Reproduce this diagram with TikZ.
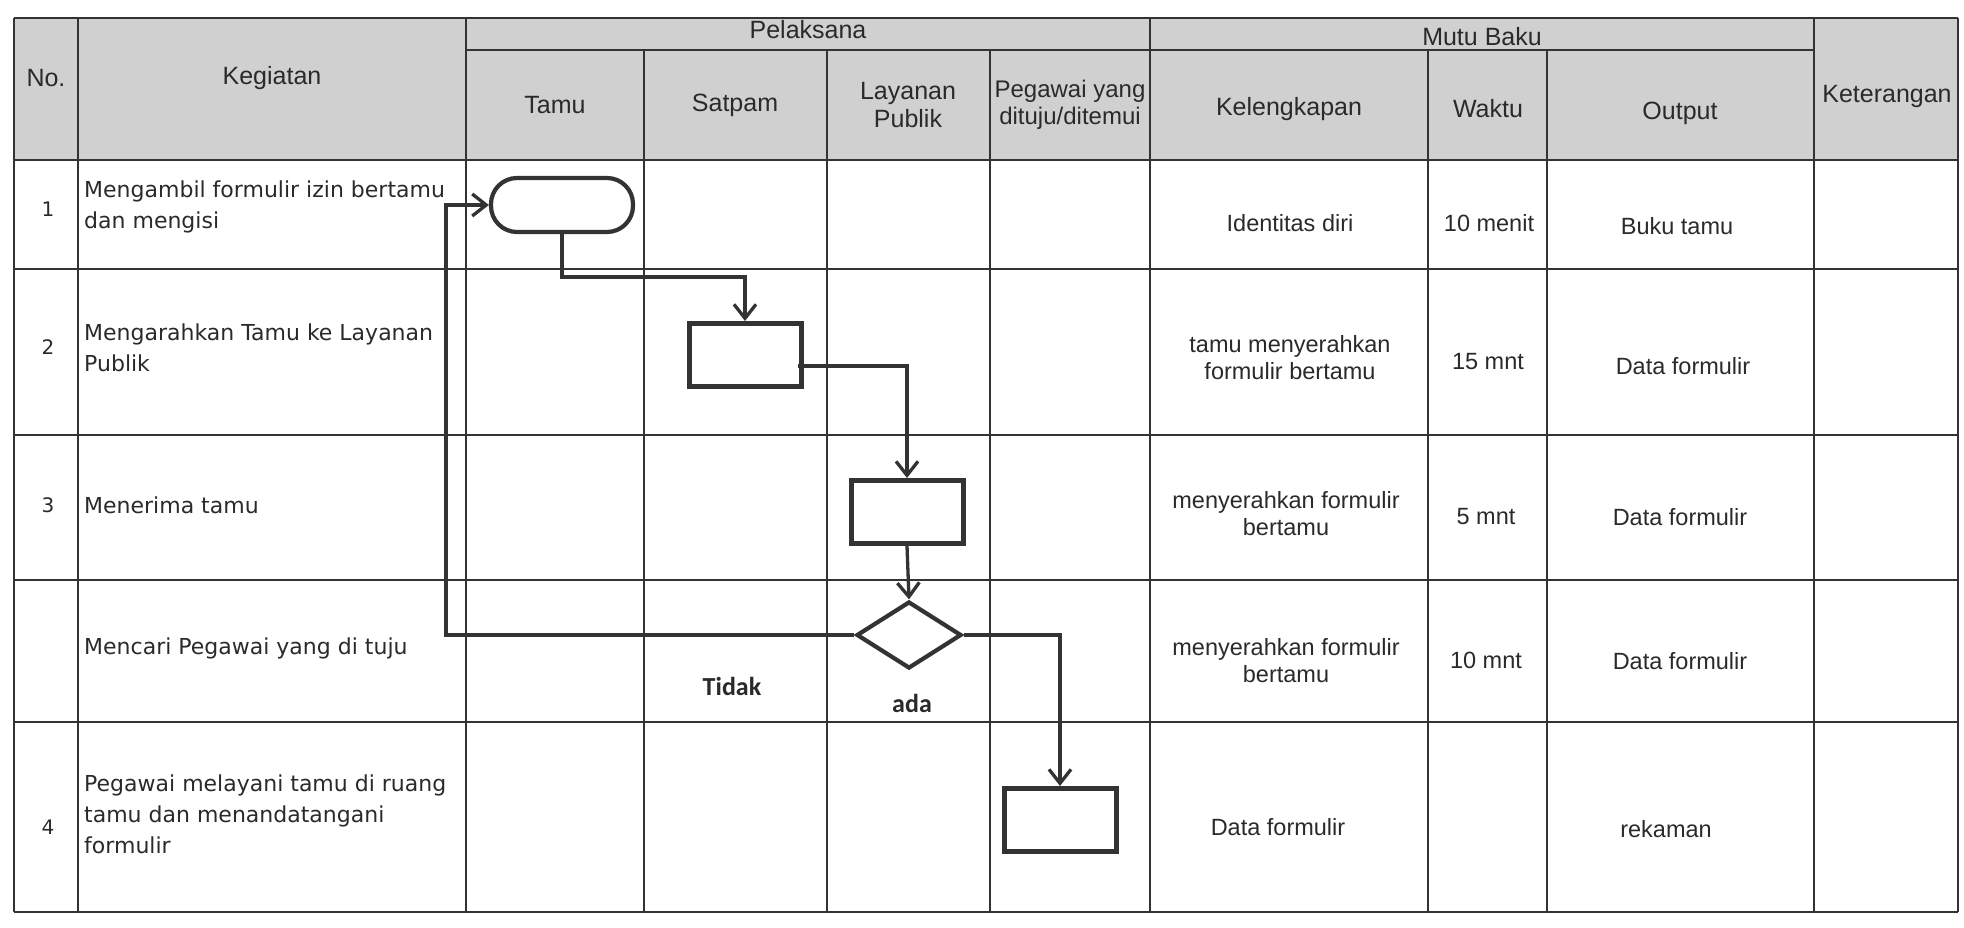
\documentclass[tikz,border=0pt]{standalone}
\usepackage{fontspec}
\setmainfont{Liberation Sans}
\newfontfamily\kegfont{DejaVu Sans}
\newfontfamily\lblfont{Carlito}
\usetikzlibrary{arrows.meta,shapes.geometric,calc}
\definecolor{txt}{HTML}{2A2A2A}
\definecolor{linec}{HTML}{333333}
\definecolor{hdfill}{HTML}{D0D0D0}
\begin{document}
\begin{tikzpicture}[x=1pt,y=-1pt,
  grid/.style={draw=linec, line width=2pt},
  hd/.style={font=\fontsize{25}{28}\selectfont, text=txt, align=center, inner sep=0},
  cell/.style={font=\fontsize{23.5}{27}\selectfont, text=txt, align=center, inner sep=0},
  num/.style={font=\kegfont\fontsize{20}{24}\selectfont, text=txt, inner sep=0},
  keg/.style={font=\kegfont\fontsize{22}{31}\selectfont, text=txt, align=left, anchor=west, inner sep=0},
  lbl/.style={font=\lblfont\bfseries\fontsize{26}{30}\selectfont, text=txt, inner sep=0},
  proc/.style={draw=linec, line width=5pt, minimum width=112pt, minimum height=63pt, inner sep=0, fill=white},
  term/.style={draw=linec, line width=4.2pt, rounded corners=26pt, minimum width=142pt, minimum height=54pt, inner sep=0, fill=white},
  dec/.style={diamond, draw=linec, line width=4.2pt, minimum width=105pt, minimum height=67pt, inner sep=0, fill=white},
  flow/.style={draw=linec, line width=3.3pt, -{Straight Barb[length=14pt,width=22pt]}}
]
\useasboundingbox (0,0) rectangle (1964,928);
% header background
\fill[hdfill] (14,18) rectangle (1958,160);
% horizontal lines
\draw[grid] (14,18) -- (1958,18);
\draw[grid] (466,50) -- (1814,50);
\foreach \yy in {160,269,435,580,722,912} \draw[grid] (14,\yy) -- (1958,\yy);
% vertical lines
\foreach \xx in {14,78,466,1150,1814,1958} \draw[grid] (\xx,18) -- (\xx,912);
\foreach \xx in {644,827,990,1428,1547} \draw[grid] (\xx,50) -- (\xx,912);
% header texts
\node[hd] (hno) at (46,78) {No.};
\node[hd] (hkeg) at (272,78) {Kegiatan};
\node[hd] (hpel) at (808,30) {Pelaksana};
\node[hd] (htamu) at (555,105) {Tamu};
\node[hd] (hsat) at (735,105) {Satpam};
\node[hd] (hlay) at (908,105) {Layanan\\Publik};
\node[hd, font=\fontsize{24}{27.5}\selectfont] (hpeg) at (1070,105) {Pegawai yang\\dituju/ditemui};
\node[hd] (hmutu) at (1482,37) {Mutu Baku};
\node[hd] (hkel) at (1289,109) {Kelengkapan};
\node[hd] (hwak) at (1488,109) {Waktu};
\node[hd] (hout) at (1680,113) {Output};
\node[hd] (hket) at (1887,96) {Keterangan};
% numbers
\node[num] (n1) at (48,209) {1};
\node[num] (n2) at (48,347) {2};
\node[num] (n3) at (48,505) {3};
\node[num] (n4) at (48,827) {4};
% kegiatan
\node[keg] (k1) at (84,207) {Mengambil formulir izin bertamu\\dan mengisi};
\node[keg] (k2) at (84,348) {Mengarahkan Tamu ke Layanan\\Publik};
\node[keg] (k3) at (84,505) {Menerima tamu};
\node[keg] (k4) at (84,648) {Mencari Pegawai yang di tuju};
\node[keg] (k5) at (84,814) {Pegawai melayani tamu di ruang\\tamu dan menandatangani\\formulir};
% mutu baku cells
\node[cell] (kl1) at (1290,223) {Identitas diri};
\node[cell] (w1) at (1489,223) {10 menit};
\node[cell] (o1) at (1677,226) {Buku tamu};
\node[cell] (kl2) at (1290,358) {tamu menyerahkan\\formulir bertamu};
\node[cell] (w2) at (1488,362) {15 mnt};
\node[cell] (o2) at (1683,366) {Data formulir};
\node[cell] (kl3) at (1286,514) {menyerahkan formulir\\bertamu};
\node[cell] (w3) at (1486,517) {5 mnt};
\node[cell] (o3) at (1680,517) {Data formulir};
\node[cell] (kl4) at (1286,661) {menyerahkan formulir\\bertamu};
\node[cell] (w4) at (1486,660) {10 mnt};
\node[cell] (o4) at (1680,661) {Data formulir};
\node[cell] (kl5) at (1278,827) {Data formulir};
\node[cell] (o5) at (1666,829) {rekaman};
% flowchart
\node[term] (t) at (562,205) {};
\node[proc] (b2) at (745,355) {};
\node[proc] (b3) at (907,512) {};
\node[dec] (d) at (909,635) {};
\node[proc] (b4) at (1060,820) {};
\coordinate (c1) at (446,205);
\coordinate (c2) at (745,277);
\coordinate (s2) at ($(b2.east)+(-6,11)$);
\coordinate (c3) at (907,366);
\draw[flow] (t.south) |- (c2) -- (b2.north);
\draw[flow] (s2) -- (c3) -- (b3.north);
\draw[flow] (b3.south) -- (d.north);
\draw[flow] (d.west) -| (c1) -- (t.west);
\draw[flow] (d.east) -| (b4.north);
\node[lbl] (tidak) at (732,686) {Tidak};
\node[lbl] (ada) at (912,703) {ada};
\end{tikzpicture}
\end{document}
